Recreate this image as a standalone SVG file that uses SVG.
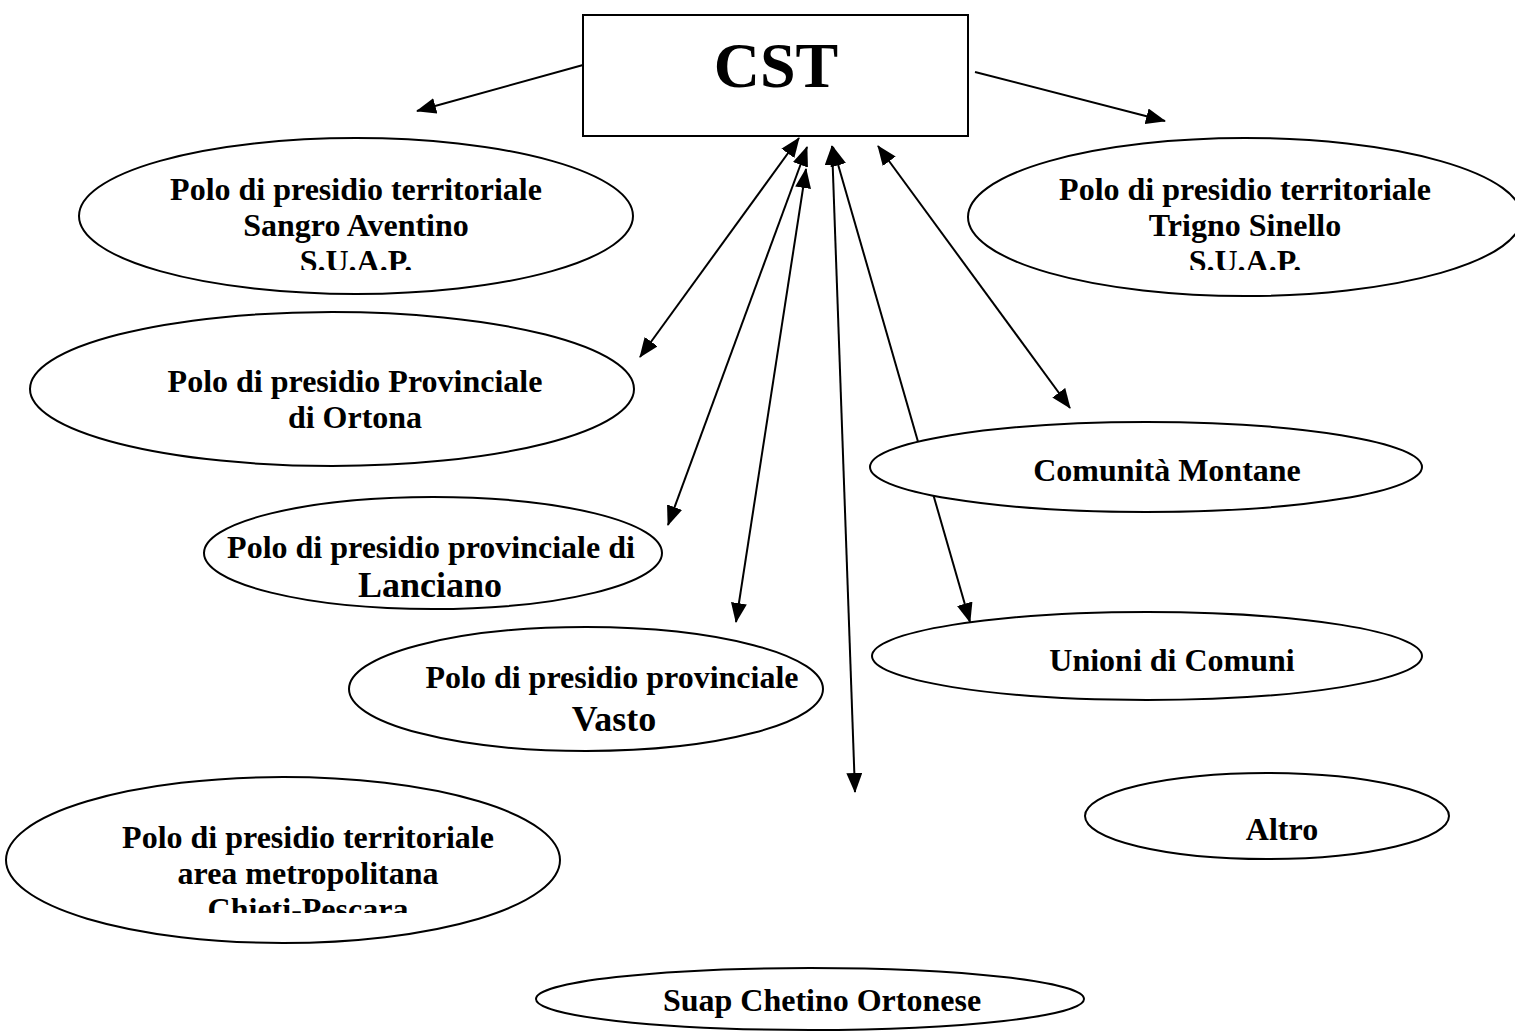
<svg xmlns="http://www.w3.org/2000/svg" width="1515" height="1033" viewBox="0 0 1515 1033">
<style>
.n{fill:#fff;stroke:#000;stroke-width:2}
.t{font-family:"Liberation Serif","Times New Roman",serif;font-weight:bold;font-size:32px;fill:#000;text-anchor:middle}
.b{font-size:36px}
.c{stroke:#000;stroke-width:2;fill:none}
</style>
<defs>
<marker id="ah" viewBox="0 0 20 16" refX="19" refY="8" markerWidth="20" markerHeight="16" markerUnits="userSpaceOnUse" orient="auto-start-reverse">
<path d="M0,0 L20,8 L0,16 z" fill="#000"/>
</marker>
<clipPath id="clipA"><rect x="0" y="0" width="1515" height="270"/></clipPath>
<clipPath id="clipC"><rect x="0" y="0" width="1515" height="913"/></clipPath>
</defs>
<rect width="1515" height="1033" fill="#fff"/>
<g id="connectors">
<line class="c" x1="583" y1="65" x2="417" y2="111" marker-end="url(#ah)"/>
<line class="c" x1="975" y1="72" x2="1165" y2="121" marker-end="url(#ah)"/>
<line class="c" x1="640" y1="357" x2="799" y2="138" marker-start="url(#ah)" marker-end="url(#ah)"/>
<line class="c" x1="668" y1="525" x2="807" y2="147" marker-start="url(#ah)" marker-end="url(#ah)"/>
<line class="c" x1="736" y1="622" x2="806" y2="169" marker-start="url(#ah)" marker-end="url(#ah)"/>
<line class="c" x1="855" y1="792" x2="832" y2="146" marker-start="url(#ah)" marker-end="url(#ah)"/>
<line class="c" x1="970" y1="622" x2="833" y2="147" marker-start="url(#ah)" marker-end="url(#ah)"/>
<line class="c" x1="1070" y1="408" x2="878" y2="146" marker-start="url(#ah)" marker-end="url(#ah)"/>
</g>
<g id="cst">
<rect class="n" x="583" y="15" width="385" height="121"/>
<text class="t" x="776" y="87" style="font-size:64px">CST</text>
</g>
<g id="sangro">
<ellipse class="n" cx="356" cy="216" rx="277" ry="78"/>
<g clip-path="url(#clipA)">
<text class="t" x="356" y="200">Polo di presidio territoriale</text>
<text class="t" x="356" y="236">Sangro Aventino</text>
<text class="t" x="356" y="272">S.U.A.P.</text>
</g>
</g>
<g id="trigno">
<ellipse class="n" cx="1245" cy="217" rx="277" ry="79"/>
<g clip-path="url(#clipA)">
<text class="t" x="1245" y="200">Polo di presidio territoriale</text>
<text class="t" x="1245" y="236">Trigno Sinello</text>
<text class="t" x="1245" y="272">S.U.A.P.</text>
</g>
</g>
<g id="ortona">
<ellipse class="n" cx="332" cy="389" rx="302" ry="77"/>
<text class="t" x="355" y="392">Polo di presidio Provinciale</text>
<text class="t" x="355" y="428">di Ortona</text>
</g>
<g id="lanciano">
<ellipse class="n" cx="433" cy="553" rx="229" ry="56"/>
<text class="t" x="431" y="558">Polo di presidio provinciale di</text>
<text class="t b" x="430" y="597">Lanciano</text>
</g>
<g id="vasto">
<ellipse class="n" cx="586" cy="689" rx="237" ry="62"/>
<text class="t" x="612" y="688">Polo di presidio provinciale</text>
<text class="t b" x="614" y="731">Vasto</text>
</g>
<g id="chieti">
<ellipse class="n" cx="283" cy="860" rx="277" ry="83"/>
<g clip-path="url(#clipC)">
<text class="t" x="308" y="848">Polo di presidio territoriale</text>
<text class="t" x="308" y="884">area metropolitana</text>
<text class="t" x="308" y="920">Chieti-Pescara</text>
</g>
</g>
<g id="comunita">
<ellipse class="n" cx="1146" cy="467" rx="276" ry="45"/>
<text class="t" x="1167" y="481">Comunità Montane</text>
</g>
<g id="unioni">
<ellipse class="n" cx="1147" cy="656" rx="275" ry="44"/>
<text class="t" x="1172" y="671">Unioni di Comuni</text>
</g>
<g id="altro">
<ellipse class="n" cx="1267" cy="816" rx="182" ry="43"/>
<text class="t" x="1282" y="840">Altro</text>
</g>
<g id="suap">
<ellipse class="n" cx="810" cy="999" rx="274" ry="31"/>
<text class="t" x="822" y="1011">Suap Chetino Ortonese</text>
</g>
</svg>
